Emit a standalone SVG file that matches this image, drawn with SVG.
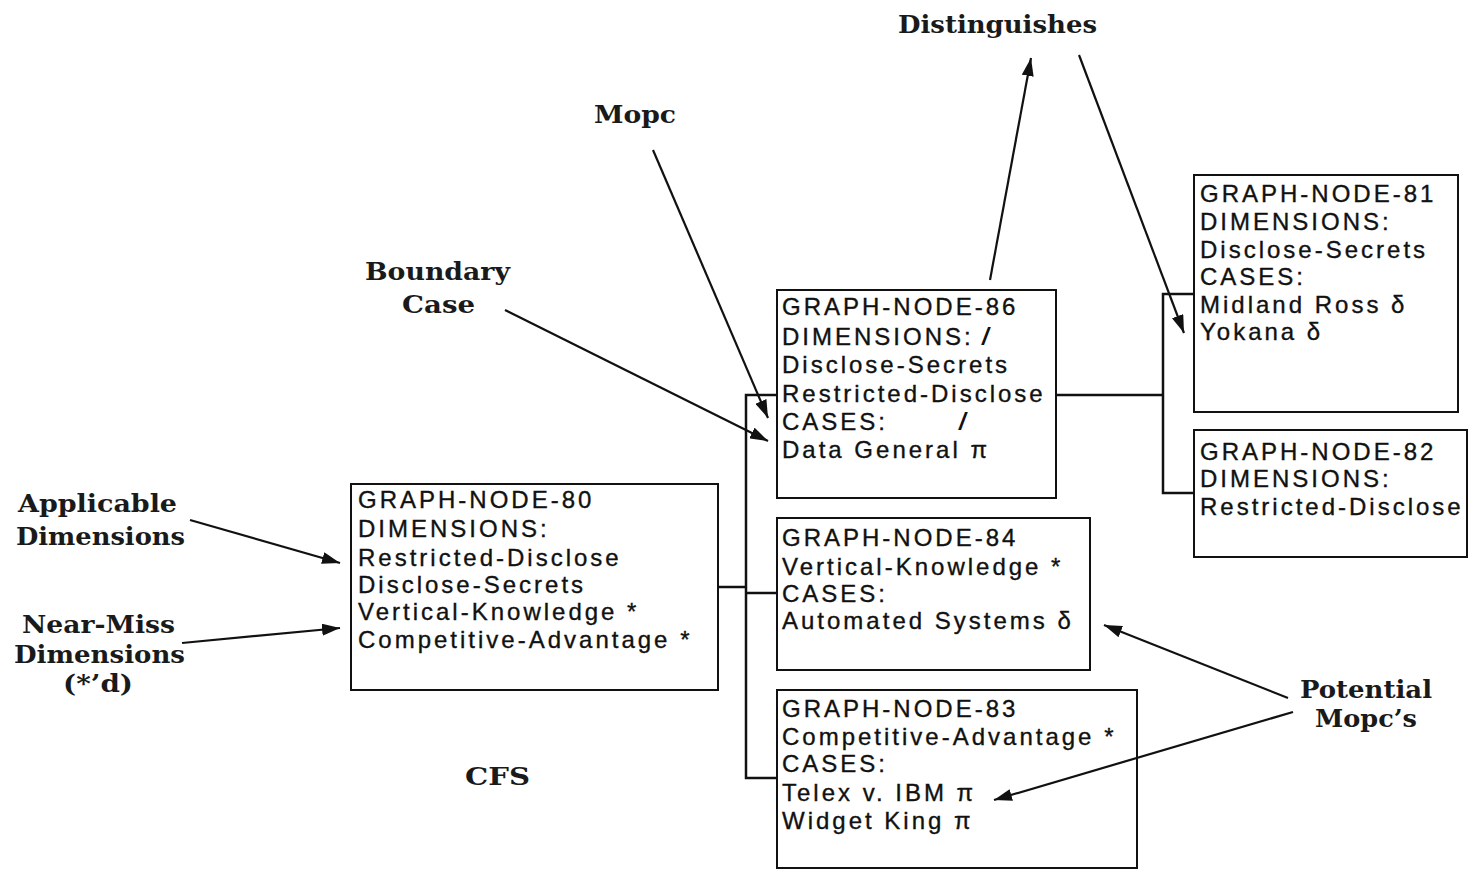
<svg xmlns="http://www.w3.org/2000/svg" width="1473" height="878" viewBox="0 0 1473 878">
<style>
.box{fill:#fff;stroke:#111;stroke-width:2}
.nt{font-family:"Liberation Sans",Arial,sans-serif;font-size:24px;letter-spacing:3px;fill:#111;stroke:#111;stroke-width:0.35}
.sl{font-family:"Liberation Sans",Arial,sans-serif;font-size:24px;font-style:italic;font-weight:bold;fill:#111}
.lb{font-family:"DejaVu Serif","Liberation Serif",serif;font-size:25px;font-weight:bold;fill:#1a1a1a}
.cn{fill:none;stroke:#111;stroke-width:2.5}
.ar{fill:none;stroke:#111;stroke-width:2.2;marker-end:url(#ah)}
</style>
<defs>
<marker id="ah" viewBox="0 0 18 12" refX="18" refY="6" markerWidth="18" markerHeight="12" orient="auto" markerUnits="userSpaceOnUse">
<path d="M0,0 L18,6 L0,12 z" fill="#111"/>
</marker>
</defs>
<rect width="1473" height="878" fill="#fff"/>

<g id="connectors">
<polyline class="cn" points="718,587 746,587"/>
<polyline class="cn" points="777,395 746,395 746,778 777,778"/>
<polyline class="cn" points="746,593 777,593"/>
<polyline class="cn" points="1056,395 1163,395"/>
<polyline class="cn" points="1193,294 1163,294 1163,493 1193,493"/>
</g>

<g id="labels">
<text class="lb" x="898" y="33" textLength="199" lengthAdjust="spacingAndGlyphs">Distinguishes</text>
<text class="lb" x="594" y="123" textLength="82" lengthAdjust="spacingAndGlyphs">Mopc</text>
<text class="lb" x="365" y="280" textLength="145" lengthAdjust="spacingAndGlyphs">Boundary</text>
<text class="lb" x="402" y="313" textLength="73" lengthAdjust="spacingAndGlyphs">Case</text>
<text class="lb" x="18" y="512" textLength="159" lengthAdjust="spacingAndGlyphs">Applicable</text>
<text class="lb" x="16" y="545" textLength="169" lengthAdjust="spacingAndGlyphs">Dimensions</text>
<text class="lb" x="22" y="633" textLength="153" lengthAdjust="spacingAndGlyphs">Near-Miss</text>
<text class="lb" x="14" y="663" textLength="171" lengthAdjust="spacingAndGlyphs">Dimensions</text>
<text class="lb" x="63" y="692" textLength="70" lengthAdjust="spacingAndGlyphs">(*’d)</text>
<text class="lb" x="465" y="785" textLength="65" lengthAdjust="spacingAndGlyphs">CFS</text>
<text class="lb" x="1300" y="698" textLength="132" lengthAdjust="spacingAndGlyphs">Potential</text>
<text class="lb" x="1315" y="727" textLength="102" lengthAdjust="spacingAndGlyphs">Mopc’s</text>
</g>

<g id="node80">
<rect class="box" x="351" y="484" width="367" height="206"/>
<text class="nt" x="358" y="508">GRAPH-NODE-80</text>
<text class="nt" x="358" y="537">DIMENSIONS:</text>
<text class="nt" x="358" y="566">Restricted-Disclose</text>
<text class="nt" x="358" y="593">Disclose-Secrets</text>
<text class="nt" x="358" y="620">Vertical-Knowledge *</text>
<text class="nt" x="358" y="648">Competitive-Advantage *</text>
</g>

<g id="node86">
<rect class="box" x="777" y="290" width="279" height="208"/>
<text class="nt" x="782" y="315">GRAPH-NODE-86</text>
<text class="nt" x="782" y="345">DIMENSIONS:</text>
<text class="sl" x="982" y="345">/</text>
<text class="nt" x="782" y="373">Disclose-Secrets</text>
<text class="nt" x="782" y="402">Restricted-Disclose</text>
<text class="nt" x="782" y="430">CASES:</text>
<text class="sl" x="959" y="430">/</text>
<text class="nt" x="782" y="458">Data General π</text>
</g>

<g id="node84">
<rect class="box" x="777" y="518" width="313" height="152"/>
<text class="nt" x="782" y="546">GRAPH-NODE-84</text>
<text class="nt" x="782" y="575">Vertical-Knowledge *</text>
<text class="nt" x="782" y="602">CASES:</text>
<text class="nt" x="782" y="629">Automated Systems δ</text>
</g>

<g id="node83">
<rect class="box" x="777" y="690" width="360" height="178"/>
<text class="nt" x="782" y="717">GRAPH-NODE-83</text>
<text class="nt" x="782" y="745">Competitive-Advantage *</text>
<text class="nt" x="782" y="772">CASES:</text>
<text class="nt" x="782" y="801">Telex v. IBM π</text>
<text class="nt" x="782" y="829">Widget King π</text>
</g>

<g id="node81">
<rect class="box" x="1194" y="175" width="264" height="237"/>
<text class="nt" x="1200" y="202">GRAPH-NODE-81</text>
<text class="nt" x="1200" y="230">DIMENSIONS:</text>
<text class="nt" x="1200" y="258">Disclose-Secrets</text>
<text class="nt" x="1200" y="285">CASES:</text>
<text class="nt" x="1200" y="313">Midland Ross δ</text>
<text class="nt" x="1200" y="340">Yokana δ</text>
</g>

<g id="node82">
<rect class="box" x="1194" y="430" width="273" height="127"/>
<text class="nt" x="1200" y="460">GRAPH-NODE-82</text>
<text class="nt" x="1200" y="487">DIMENSIONS:</text>
<text class="nt" x="1200" y="515">Restricted-Disclose</text>
</g>

<g id="annotation-arrows">
<line class="ar" x1="190" y1="520" x2="340" y2="563"/>
<line class="ar" x1="182" y1="643" x2="340" y2="628"/>
<line class="ar" x1="505" y1="310" x2="768" y2="441"/>
<line class="ar" x1="653" y1="150" x2="768" y2="418"/>
<line class="ar" x1="990" y1="280" x2="1031" y2="58"/>
<line class="ar" x1="1079" y1="55" x2="1184" y2="333"/>
<line class="ar" x1="1288" y1="698" x2="1104" y2="625"/>
<line class="ar" x1="1293" y1="712" x2="994" y2="800"/>
</g>
</svg>
